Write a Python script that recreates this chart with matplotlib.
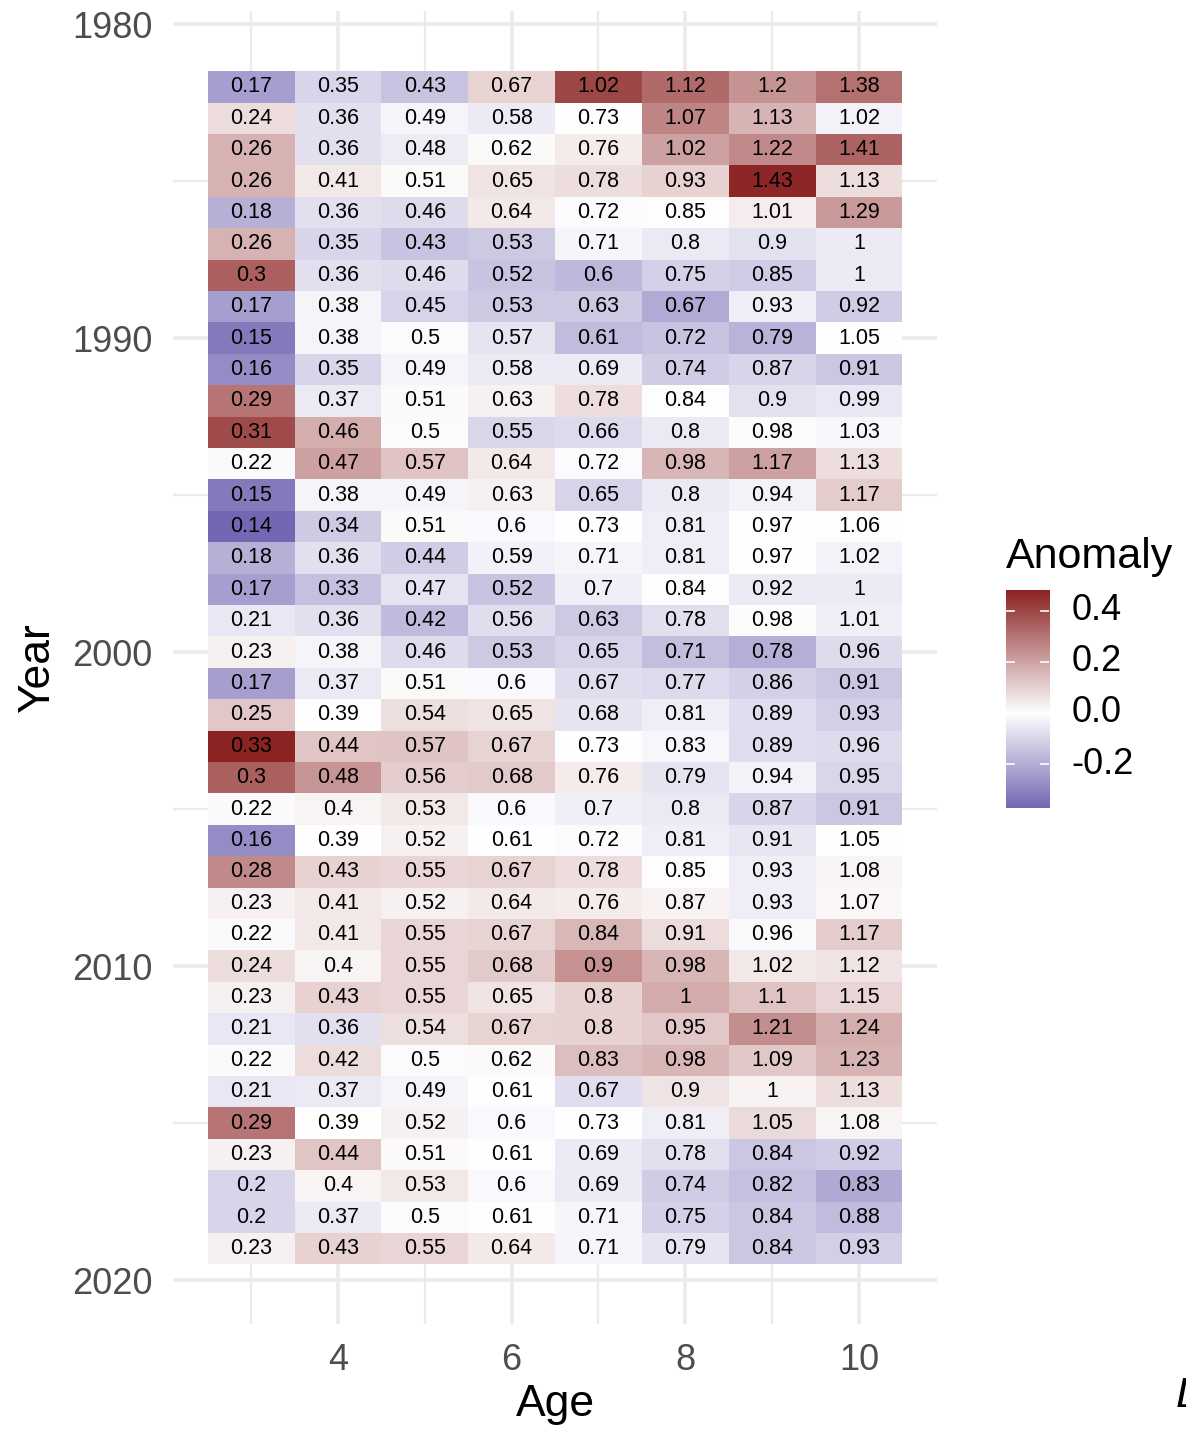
import matplotlib
matplotlib.use('Agg')
import matplotlib.pyplot as plt
import numpy as np
from matplotlib.colors import LinearSegmentedColormap, Normalize


plt.rcParams['font.family'] = ['Liberation Sans', 'DejaVu Sans']

# Mean weight at age (kg) by year
AGES = [3, 4, 5, 6, 7, 8, 9, 10]
YEARS = list(range(1982, 2020))
WEIGHTS = [
    [0.17, 0.35, 0.43, 0.67, 1.02, 1.12, 1.2, 1.38],
    [0.24, 0.36, 0.49, 0.58, 0.73, 1.07, 1.13, 1.02],
    [0.26, 0.36, 0.48, 0.62, 0.76, 1.02, 1.22, 1.41],
    [0.26, 0.41, 0.51, 0.65, 0.78, 0.93, 1.43, 1.13],
    [0.18, 0.36, 0.46, 0.64, 0.72, 0.85, 1.01, 1.29],
    [0.26, 0.35, 0.43, 0.53, 0.71, 0.8, 0.9, 1],
    [0.3, 0.36, 0.46, 0.52, 0.6, 0.75, 0.85, 1],
    [0.17, 0.38, 0.45, 0.53, 0.63, 0.67, 0.93, 0.92],
    [0.15, 0.38, 0.5, 0.57, 0.61, 0.72, 0.79, 1.05],
    [0.16, 0.35, 0.49, 0.58, 0.69, 0.74, 0.87, 0.91],
    [0.29, 0.37, 0.51, 0.63, 0.78, 0.84, 0.9, 0.99],
    [0.31, 0.46, 0.5, 0.55, 0.66, 0.8, 0.98, 1.03],
    [0.22, 0.47, 0.57, 0.64, 0.72, 0.98, 1.17, 1.13],
    [0.15, 0.38, 0.49, 0.63, 0.65, 0.8, 0.94, 1.17],
    [0.14, 0.34, 0.51, 0.6, 0.73, 0.81, 0.97, 1.06],
    [0.18, 0.36, 0.44, 0.59, 0.71, 0.81, 0.97, 1.02],
    [0.17, 0.33, 0.47, 0.52, 0.7, 0.84, 0.92, 1],
    [0.21, 0.36, 0.42, 0.56, 0.63, 0.78, 0.98, 1.01],
    [0.23, 0.38, 0.46, 0.53, 0.65, 0.71, 0.78, 0.96],
    [0.17, 0.37, 0.51, 0.6, 0.67, 0.77, 0.86, 0.91],
    [0.25, 0.39, 0.54, 0.65, 0.68, 0.81, 0.89, 0.93],
    [0.33, 0.44, 0.57, 0.67, 0.73, 0.83, 0.89, 0.96],
    [0.3, 0.48, 0.56, 0.68, 0.76, 0.79, 0.94, 0.95],
    [0.22, 0.4, 0.53, 0.6, 0.7, 0.8, 0.87, 0.91],
    [0.16, 0.39, 0.52, 0.61, 0.72, 0.81, 0.91, 1.05],
    [0.28, 0.43, 0.55, 0.67, 0.78, 0.85, 0.93, 1.08],
    [0.23, 0.41, 0.52, 0.64, 0.76, 0.87, 0.93, 1.07],
    [0.22, 0.41, 0.55, 0.67, 0.84, 0.91, 0.96, 1.17],
    [0.24, 0.4, 0.55, 0.68, 0.9, 0.98, 1.02, 1.12],
    [0.23, 0.43, 0.55, 0.65, 0.8, 1, 1.1, 1.15],
    [0.21, 0.36, 0.54, 0.67, 0.8, 0.95, 1.21, 1.24],
    [0.22, 0.42, 0.5, 0.62, 0.83, 0.98, 1.09, 1.23],
    [0.21, 0.37, 0.49, 0.61, 0.67, 0.9, 1, 1.13],
    [0.29, 0.39, 0.52, 0.6, 0.73, 0.81, 1.05, 1.08],
    [0.23, 0.44, 0.51, 0.61, 0.69, 0.78, 0.84, 0.92],
    [0.2, 0.4, 0.53, 0.6, 0.69, 0.74, 0.82, 0.83],
    [0.2, 0.37, 0.5, 0.61, 0.71, 0.75, 0.84, 0.88],
    [0.23, 0.43, 0.55, 0.64, 0.71, 0.79, 0.84, 0.93],
]
LEGEND_TICKS = [-0.2, 0.0, 0.2, 0.4]

GRID = '#ebebeb'
TICK_GREY = '#4d4d4d'

weights = np.array(WEIGHTS)
# relative anomaly from the mean weight of each age
anomaly = weights / weights.mean(axis=0) - 1
lim = np.abs(anomaly).max()

cmap = LinearSegmentedColormap.from_list(
    'anom', ['#4a3c9c', '#ffffff', '#8b2323'])
norm = Normalize(vmin=-lim, vmax=lim)

fig = plt.figure(figsize=(11.86, 14.30), dpi=100)
ax = fig.add_axes([0.1459, 0.0741, 0.6442, 0.9179])

ages = np.array(AGES)
years = np.array(YEARS)
x_edges = np.append(ages - 0.5, ages[-1] + 0.5)
y_edges = np.append(years - 0.5, years[-1] + 0.5)
ax.pcolormesh(x_edges, y_edges, anomaly, cmap=cmap, norm=norm, zorder=2)

for i, yr in enumerate(YEARS):
    for j, age in enumerate(AGES):
        ax.text(age, yr, '{:g}'.format(WEIGHTS[i][j]), ha='center',
                va='center', fontsize=15.5, color='black', zorder=3)

ax.set_xlim(2.1, 10.9)
ax.set_ylim(2021.4, 1979.6)

ax.set_xticks([4, 6, 8, 10])
ax.set_xticks([3, 5, 7, 9], minor=True)
ax.set_yticks([1980, 1990, 2000, 2010, 2020])
ax.set_yticks([1985, 1995, 2005, 2015], minor=True)
ax.grid(which='major', color=GRID, linewidth=2.6, zorder=0)
ax.grid(which='minor', color=GRID, linewidth=1.6, zorder=0)
ax.set_axisbelow(True)
ax.tick_params(which='both', length=0, labelsize=26, colors=TICK_GREY)
ax.tick_params(axis='y', pad=15)
ax.tick_params(axis='x', pad=14)
for spine in ax.spines.values():
    spine.set_visible(False)

ax.set_xlabel('Age', fontsize=32, labelpad=4)
ax.set_ylabel('Year', fontsize=32, labelpad=10)

# continuous legend for the anomaly scale
cax = fig.add_axes([0.848, 0.435, 0.0363, 0.1524])
grad = np.linspace(anomaly.min(), anomaly.max(), 256).reshape(-1, 1)
cax.imshow(grad, cmap=cmap, norm=norm, aspect='auto', origin='lower',
           extent=[0, 1, anomaly.min(), anomaly.max()])
cax.set_xlim(0, 1)
cax.set_ylim(anomaly.min(), anomaly.max())
cax.set_xticks([])
cax.set_yticks([])
for spine in cax.spines.values():
    spine.set_visible(False)
for t in LEGEND_TICKS:
    cax.plot([0, 0.19], [t, t], color='white', linewidth=1.2)
    cax.plot([0.81, 1], [t, t], color='white', linewidth=1.2)
    cax.text(1.53, t, '{:.1f}'.format(t), transform=cax.get_yaxis_transform(),
             ha='left', va='center', fontsize=26, color='black')
fig.text(0.848, 0.603, 'Anomaly', ha='left', va='baseline', fontsize=31)

fig.text(0.991, 0.016, 'L', ha='left', va='baseline', fontsize=31,
         style='italic')

fig.savefig('out.png', dpi=100, facecolor='white')
